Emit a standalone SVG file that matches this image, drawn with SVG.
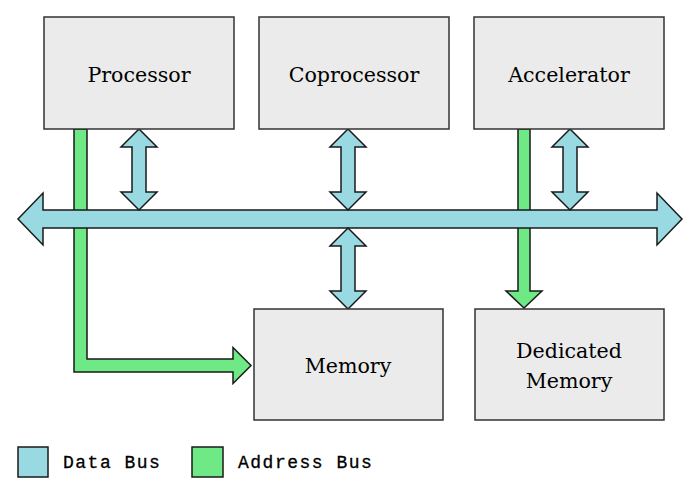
<svg xmlns="http://www.w3.org/2000/svg" width="700" height="497" viewBox="0 0 700 497">
<style>
.box{fill:#ebebeb;stroke:#333333;stroke-width:1.5}
.lbl{font-family:"DejaVu Serif",serif;font-size:20.6px;fill:#000000;text-anchor:middle}
.data{fill:#98d9e2;stroke:#1a1a1a;stroke-width:1.5;stroke-linejoin:miter}
.addr{fill:#6fe986;stroke:#1a1a1a;stroke-width:1.5;stroke-linejoin:miter}
.leg{font-family:"Liberation Mono","Courier New",monospace;font-size:18px;letter-spacing:1.5px;fill:#000000;stroke:#000000;stroke-width:0.3}
</style>
<rect width="700" height="497" fill="#ffffff"/>
<g id="connectors">
<polygon class="addr" points="74,129 87,129 87,359 233,359 233,347.5 251,365.5 233,383.5 233,372 74,372"/>
<polygon class="addr" points="518,129 530,129 530,291 542,291 524,308 506,291 518,291"/>
<polygon class="data" points="18,219 43,193 43,210 657,210 657,193 682,219 657,245 657,228 43,228 43,245"/>
<polygon class="data" points="139,129 157,147 146,147 146,192 157,192 139,210 121,192 132,192 132,147 121,147"/>
<polygon class="data" points="348,129 366,147 355,147 355,192 366,192 348,210 330,192 341,192 341,147 330,147"/>
<polygon class="data" points="348,228 366,246 355,246 355,291 366,291 348,309 330,291 341,291 341,246 330,246"/>
<polygon class="data" points="570,129 588,147 577,147 577,192 588,192 570,210 552,192 563,192 563,147 552,147"/>
</g>
<g id="processor"><rect class="box" x="44" y="17" width="190" height="112"/><text class="lbl" x="139" y="81.5">Processor</text></g>
<g id="coprocessor"><rect class="box" x="259" y="17" width="190" height="112"/><text class="lbl" x="354" y="81.5">Coprocessor</text></g>
<g id="accelerator"><rect class="box" x="474" y="17" width="190" height="112"/><text class="lbl" x="569" y="81.5">Accelerator</text></g>
<g id="memory"><rect class="box" x="254" y="309" width="189" height="111"/><text class="lbl" x="348" y="372.5">Memory</text></g>
<g id="dedicated-memory"><rect class="box" x="475" y="309" width="189" height="111"/><text class="lbl" x="569" y="358">Dedicated</text><text class="lbl" x="569" y="388">Memory</text></g>
<g id="legend">
<rect class="data" x="18" y="447" width="30" height="30"/>
<text class="leg" x="63" y="468">Data Bus</text>
<rect class="addr" x="192" y="447" width="31" height="30"/>
<text class="leg" x="238" y="468">Address Bus</text>
</g>
</svg>
